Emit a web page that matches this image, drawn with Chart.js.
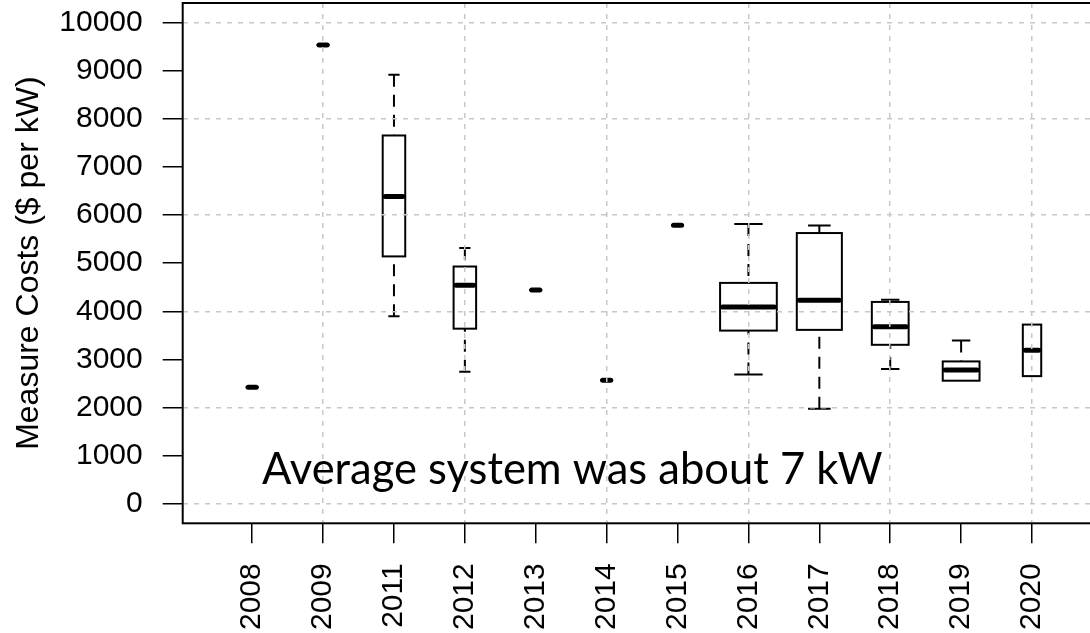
<!DOCTYPE html>
<html>
<head>
<meta charset="utf-8">
<script src="https://cdn.jsdelivr.net/npm/chart.js@4"></script>
<style>
  html, body { margin: 0; padding: 0; background: #fff; overflow: hidden; }
  #wrap { width: 1120px; height: 633px; }
</style>
</head>
<body>
<div id="wrap"><canvas id="graph"></canvas></div>
<script>
// measure cost per kW by install year (five-number summaries)
const years = ["2008", "2009", "2011", "2012", "2013", "2014", "2015", "2016", "2017", "2018", "2019", "2020"]
const lowWhisker    = [2425, 9530, 3900, 2745, 4445, 2570, 5785, 2690, 1980, 2805, 2560, 2655]
const lowerQuartile = [2425, 9530, 5140, 3640, 4445, 2570, 5785, 3600, 3615, 3305, 2560, 2655]
const medians       = [2425, 9530, 6385, 4540, 4445, 2570, 5785, 4090, 4230, 3680, 2780, 3190]
const upperQuartile = [2425, 9530, 7650, 4930, 4445, 2570, 5785, 4590, 5625, 4195, 2960, 3725]
const highWhisker   = [2425, 9530, 8910, 5315, 4445, 2570, 5785, 5815, 5780, 4240, 3395, 3725]
const counts        = [1, 1, 3, 3, 1, 1, 1, 19, 12, 8, 8, 2]
const yTicks = [0, 1000, 2000, 3000, 4000, 5000, 6000, 7000, 8000, 9000, 10000]

const gridGray = '#c8c8c8'
const labelFont = { family: "'Liberation Sans', Arial, sans-serif", size: 30 }

// boxes, whiskers and medians (width ~ sqrt(n))
const boxPlot = {
    id: 'boxPlot',
    afterDatasetsDraw(chart) {
        const { ctx, chartArea, scales: { x, y } } = chart
        const maxN = Math.max(...counts)
        ctx.save()
        ctx.beginPath()
        ctx.rect(chartArea.left, chartArea.top, chartArea.right - chartArea.left, chartArea.bottom - chartArea.top)
        ctx.clip()
        ctx.strokeStyle = '#000'
        years.forEach((yr, i) => {
            const cx = x.getPixelForValue(i + 1)
            const half = x.getPixelForValue(1 + 0.4 * Math.sqrt(counts[i] / maxN)) - x.getPixelForValue(1)
            const yLo = y.getPixelForValue(lowWhisker[i])
            const yQ1 = y.getPixelForValue(lowerQuartile[i])
            const yMed = y.getPixelForValue(medians[i])
            const yQ3 = y.getPixelForValue(upperQuartile[i])
            const yHi = y.getPixelForValue(highWhisker[i])

            ctx.lineWidth = 2
            ctx.lineCap = 'butt'
            // whiskers drawn from the staple toward the box
            ctx.setLineDash([12, 8])
            if (yHi < yQ3) {
                ctx.beginPath(); ctx.moveTo(cx, yHi); ctx.lineTo(cx, yQ3); ctx.stroke()
            }
            if (yLo > yQ1) {
                ctx.beginPath(); ctx.moveTo(cx, yLo); ctx.lineTo(cx, yQ1); ctx.stroke()
            }
            ctx.setLineDash([])
            if (yHi < yQ3) {
                ctx.beginPath(); ctx.moveTo(cx - half / 2, yHi); ctx.lineTo(cx + half / 2, yHi); ctx.stroke()
            }
            if (yLo > yQ1) {
                ctx.beginPath(); ctx.moveTo(cx - half / 2, yLo); ctx.lineTo(cx + half / 2, yLo); ctx.stroke()
            }

            // box
            ctx.fillStyle = '#fff'
            ctx.fillRect(cx - half, yQ3, 2 * half, yQ1 - yQ3)
            ctx.strokeRect(cx - half, yQ3, 2 * half, yQ1 - yQ3)

            // median
            ctx.lineWidth = 5
            ctx.lineCap = 'round'
            ctx.beginPath()
            ctx.moveTo(cx - half + 2.5, yMed)
            ctx.lineTo(cx + half - 2.5, yMed)
            ctx.stroke()
        })
        ctx.restore()
    },
    afterDraw(chart) {
        const { ctx, chartArea, scales: { x, y } } = chart
        ctx.save()
        // plot frame
        ctx.strokeStyle = '#000'
        ctx.lineWidth = 2
        ctx.strokeRect(chartArea.left, chartArea.top, chartArea.right - chartArea.left, chartArea.bottom - chartArea.top)
        // note
        ctx.fillStyle = '#000'
        ctx.font = "43.5px Lato, 'Open Sans', sans-serif"
        ctx.textAlign = 'left'
        ctx.textBaseline = 'alphabetic'
        ctx.fillText('Average system was about 7 kW', x.getPixelForValue(1.14), y.getPixelForValue(410))
        ctx.restore()
    }
}

const data = {
    datasets: [
        {
            label: 'Median',
            data: medians.map((m, i) => ({ x: i + 1, y: m })),
            pointRadius: 0,
            showLine: false,
        },
    ],
}

const config = {
    type: 'scatter',
    data: data,
    options: {
        responsive: true,
        maintainAspectRatio: false,
        animation: false,
        devicePixelRatio: 1,
        layout: { padding: { top: 3, left: 0, right: 18.5, bottom: 0 } },
        plugins: {
            legend: { display: false },
            tooltip: { enabled: false },
        },
        scales: {
            x: {
                type: 'linear',
                min: 0.02,
                max: 12.98,
                afterBuildTicks: (scale) => {
                    scale.ticks = years.map((yr, i) => ({ value: i + 1 }))
                },
                afterFit: (scale) => {
                    scale.height = 633 - 523.3
                    scale.paddingLeft = 0
                    scale.paddingRight = 0
                },
                ticks: {
                    autoSkip: false,
                    minRotation: 90,
                    maxRotation: 90,
                    padding: 20,
                    color: '#000',
                    font: labelFont,
                    callback: (v) => years[v - 1],
                },
                grid: {
                    z: 1,
                    color: (c) => (c.tick && c.tick.value % 2 === 0 ? gridGray : 'rgba(0,0,0,0)'),
                    lineWidth: 1.5,
                    tickLength: 20,
                    tickColor: '#000',
                    tickWidth: 1.5,
                    tickBorderDash: [],
                },
                border: { display: false, dash: [5, 6] },
            },
            y: {
                min: -400,
                max: 10400,
                afterBuildTicks: (scale) => {
                    scale.ticks = yTicks.map((v) => ({ value: v }))
                },
                afterFit: (scale) => {
                    scale.width = 182.7
                    scale.paddingTop = 0
                    scale.paddingBottom = 0
                },
                ticks: {
                    padding: 20,
                    color: '#000',
                    font: labelFont,
                    callback: (v) => String(v),
                },
                title: {
                    display: true,
                    text: 'Measure Costs ($ per kW)',
                    color: '#000',
                    font: { family: labelFont.family, size: 32 },
                    padding: { top: 10, bottom: 0 },
                },
                grid: {
                    z: 1,
                    color: (c) => (c.tick && c.tick.value % 2000 === 0 ? gridGray : 'rgba(0,0,0,0)'),
                    lineWidth: 1.5,
                    tickLength: 20,
                    tickColor: '#000',
                    tickWidth: 1.5,
                    tickBorderDash: [],
                },
                border: { display: false, dash: [5, 6] },
            },
        },
    },
    plugins: [boxPlot],
}

let myChart = new Chart(
    document.getElementById('graph').getContext('2d'),
    config
);
</script>
</body>
</html>
